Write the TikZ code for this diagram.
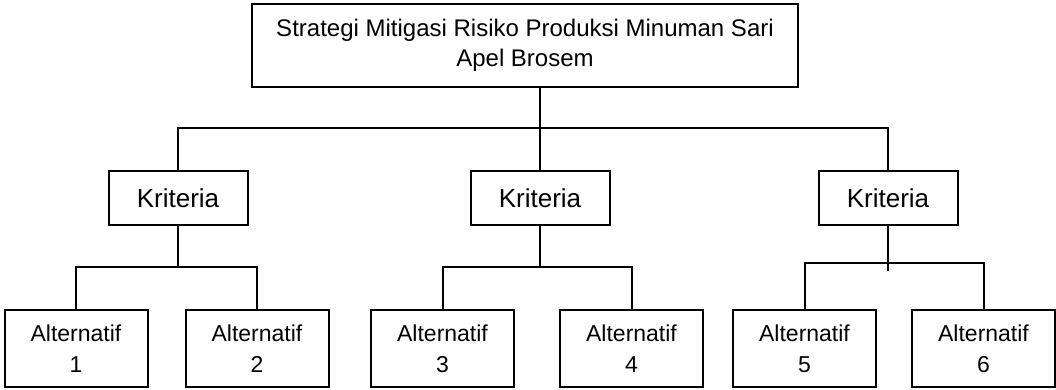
\documentclass[tikz,border=0pt]{standalone}
\usepackage{fontspec}
\setmainfont{Liberation Sans}
\begin{document}
\begin{tikzpicture}[x=0.5pt, y=-0.5pt, line width=1pt,
  topbox/.style={draw, align=center, minimum width=273pt, minimum height=41.5pt, font=\fontsize{12}{15}\selectfont},
  kritbox/.style={draw, minimum width=69.5pt, minimum height=27pt, font=\fontsize{13}{15.6}\selectfont},
  altbox/.style={draw, align=center, minimum width=71.5pt, minimum height=38.5pt, font=\fontsize{11.5}{15.5}\selectfont}]
\useasboundingbox (0, 0) rectangle (1056, 390);
% tujuan
\node[topbox] (goal) at (525, 45.5) {Strategi Mitigasi Risiko Produksi Minuman Sari\\Apel Brosem};
% kriteria
\node[kritbox] (k1) at (178, 198) {Kriteria};
\node[kritbox] (k2) at (540, 198) {Kriteria};
\node[kritbox] (k3) at (888, 198) {Kriteria};
% alternatif
\node[altbox] (a1) at (76, 348.5) {Alternatif\\1};
\node[altbox] (a2) at (257, 348.5) {Alternatif\\2};
\node[altbox] (a3) at (442.5, 348.5) {Alternatif\\3};
\node[altbox] (a4) at (631.5, 348.5) {Alternatif\\4};
\node[altbox] (a5) at (804.5, 348.5) {Alternatif\\5};
\node[altbox] (a6) at (983.5, 348.5) {Alternatif\\6};
% garis
\coordinate (bus) at (540, 128);
\draw (goal.south -| bus) -- (bus);
\draw (k1.north) |- (k3.north |- bus) -- (k3.north);
\draw (bus) -- (k2.north);
\coordinate (bus1) at (178, 267);
\draw (k1.south) -- (bus1);
\draw (a1.north) |- (a2.north |- bus1) -- (a2.north);
\coordinate (bus2) at (540, 267);
\draw (k2.south) -- (bus2);
\draw (a3.north) |- (a4.north |- bus2) -- (a4.north);
\coordinate (bus3) at (888, 263);
\draw (k3.south) -- ++(0, 45);
\draw (a5.north) |- (a6.north |- bus3) -- (a6.north);
\end{tikzpicture}
\end{document}
